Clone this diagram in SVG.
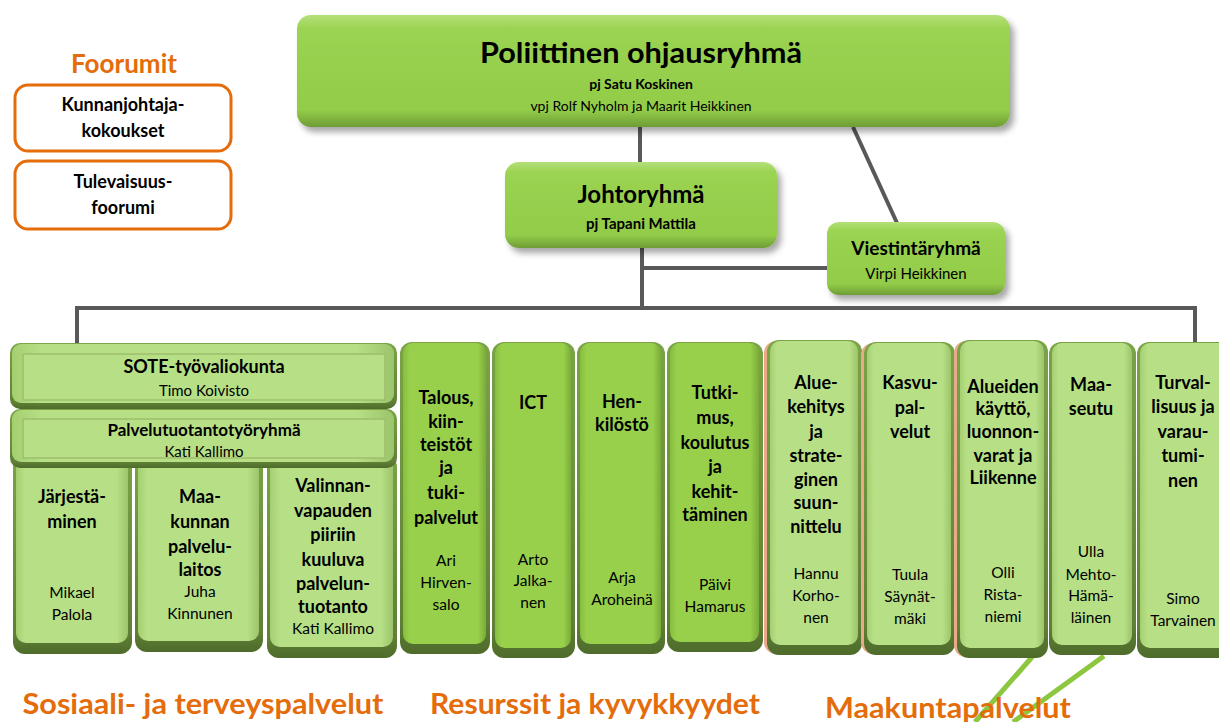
<svg xmlns="http://www.w3.org/2000/svg" width="1219" height="722" viewBox="0 0 1219 722">
<style>
.t{font-family:Lato,"Liberation Sans",sans-serif;text-anchor:middle;fill:#000}
.b{font-weight:bold}
.cb{font-size:18px;font-weight:bold}
.cn{font-size:15.5px}
.or{fill:#e46c0a;font-weight:bold}
.con{stroke:#595959;stroke-width:4;fill:none}
.gl{stroke:#8dc63f;stroke-width:5;fill:none}
.fbox{fill:#fff;stroke:#e46c0a;stroke-width:3}
.rim{fill:url(#gRim)}
.face1{fill:url(#gMid)}
.face2{fill:url(#gLight)}
.inner{fill:#b7df85;stroke:#9dbf6d;stroke-width:1.5}
</style>
<defs>
<linearGradient id="gTop" x1="0" y1="0" x2="0" y2="1">
<stop offset="0" stop-color="#b4e07a"/><stop offset="0.12" stop-color="#9bd352"/><stop offset="0.85" stop-color="#92cc48"/><stop offset="1" stop-color="#6f9c36"/>
</linearGradient>
<linearGradient id="gRim" x1="0" y1="0" x2="0" y2="1">
<stop offset="0" stop-color="#7aa447"/><stop offset="0.9" stop-color="#5f8035"/><stop offset="1" stop-color="#4e6b2b"/>
</linearGradient>
<linearGradient id="gMid" x1="0" y1="0" x2="1" y2="0">
<stop offset="0" stop-color="#86bd3f"/><stop offset="0.08" stop-color="#98d04c"/><stop offset="0.9" stop-color="#98d04c"/><stop offset="1" stop-color="#7aab38"/>
</linearGradient>
<linearGradient id="gLight" x1="0" y1="0" x2="1" y2="0">
<stop offset="0" stop-color="#a4cf70"/><stop offset="0.08" stop-color="#b7e086"/><stop offset="0.9" stop-color="#b7e086"/><stop offset="1" stop-color="#9cc46a"/>
</linearGradient>
<filter id="sh" x="-10%" y="-10%" width="125%" height="130%">
<feDropShadow dx="4" dy="5" stdDeviation="3" flood-color="#000" flood-opacity="0.35"/>
</filter>
</defs>

<g id="foorumit">
<text class="t or" x="124" y="73" font-size="26">Foorumit</text>
</g>
<g id="kunnanjohtajakokoukset">
<rect class="fbox" x="15" y="85" width="216" height="66" rx="13"/>
<text class="t b" x="123" y="111" font-size="18">Kunnanjohtaja-</text>
<text class="t b" x="123" y="137" font-size="18">kokoukset</text>
</g>
<g id="tulevaisuusfoorumi">
<rect class="fbox" x="15" y="161" width="216" height="68" rx="13"/>
<text class="t b" x="123" y="188" font-size="18">Tulevaisuus-</text>
<text class="t b" x="123" y="214" font-size="18">foorumi</text>
</g>

<g id="connectors">
<path class="con" d="M640 127V163"/>
<path class="con" d="M853 127L897 223"/>
<path class="con" d="M642 248V308"/>
<path class="con" d="M642 268H828"/>
<path class="con" d="M75 308H1197"/>
<path class="con" d="M77 306V344"/>
<path class="con" d="M1195 306V343"/>
<path class="gl" d="M1033 656L975 722"/>
<path class="gl" d="M1104 656L1013 722"/>
</g>

<g id="poliittinen">
<rect x="297" y="15" width="713" height="112" rx="14" fill="url(#gTop)" filter="url(#sh)"/>
<text class="t b" x="641" y="63" font-size="28" textLength="322" lengthAdjust="spacingAndGlyphs">Poliittinen ohjausryhmä</text>
<text class="t b" x="641" y="89" font-size="14">pj Satu Koskinen</text>
<text class="t" x="641" y="111" font-size="14">vpj Rolf Nyholm ja Maarit Heikkinen</text>
</g>

<g id="johtoryhma">
<rect x="505" y="162" width="272" height="86" rx="14" fill="url(#gTop)" filter="url(#sh)"/>
<text class="t b" x="641" y="203" font-size="24">Johtoryhmä</text>
<text class="t b" x="641" y="229" font-size="15">pj Tapani Mattila</text>
</g>

<g id="viestintaryhma">
<rect x="827" y="222" width="178" height="73" rx="12" fill="url(#gTop)" filter="url(#sh)"/>
<text class="t b" x="916" y="255" font-size="19">Viestintäryhmä</text>
<text class="t" x="916" y="279" font-size="15">Virpi Heikkinen</text>
</g>

<g id="jarjestaminen">
<rect class="rim" x="13" y="455" width="119" height="199" rx="12"/>
<rect class="face2" x="16" y="455" width="112" height="188" rx="10"/>
<text class="t cb" x="72" y="503">Järjestä-</text>
<text class="t cb" x="72" y="528">minen</text>
<text class="t cn" x="72" y="598">Mikael</text>
<text class="t cn" x="72" y="620">Palola</text>
</g>
<g id="maakunnan-palvelulaitos">
<rect class="rim" x="135" y="455" width="128" height="197" rx="12"/>
<rect class="face2" x="138" y="455" width="121" height="186" rx="10"/>
<text class="t cb" x="200" y="503">Maa-</text>
<text class="t cb" x="200" y="528">kunnan</text>
<text class="t cb" x="200" y="553">palvelu-</text>
<text class="t cb" x="200" y="576">laitos</text>
<text class="t cn" x="200" y="597">Juha</text>
<text class="t cn" x="200" y="619">Kinnunen</text>
</g>
<g id="valinnanvapaus">
<rect class="rim" x="267" y="455" width="130" height="203" rx="12"/>
<rect class="face2" x="270" y="455" width="123" height="192" rx="10"/>
<text class="t cb" x="333" y="492">Valinnan-</text>
<text class="t cb" x="333" y="517">vapauden</text>
<text class="t cb" x="333" y="541">piiriin</text>
<text class="t cb" x="333" y="566">kuuluva</text>
<text class="t cb" x="333" y="590">palvelun-</text>
<text class="t cb" x="333" y="613">tuotanto</text>
<text class="t cn" x="333" y="634">Kati Kallimo</text>
</g>
<g id="sote-tyovaliokunta">
<rect class="rim" x="10" y="343" width="387" height="66" rx="10"/>
<rect class="face2" x="12" y="344" width="382" height="59" rx="9"/>
<rect class="inner" x="23" y="354" width="362" height="46"/>
<text class="t b" x="204" y="373" font-size="18">SOTE-työvaliokunta</text>
<text class="t" x="204" y="396" font-size="15">Timo Koivisto</text>
</g>
<g id="palvelutuotantotyoryhma">
<rect class="rim" x="10" y="409" width="387" height="59" rx="10"/>
<rect class="face2" x="12" y="410" width="382" height="52" rx="9"/>
<rect class="inner" x="23" y="419" width="362" height="39"/>
<text class="t b" x="204" y="436" font-size="17">Palvelutuotantotyöryhmä</text>
<text class="t" x="204" y="457" font-size="15">Kati Kallimo</text>
</g>

<g id="talous">
<rect class="rim" x="400" y="342" width="90" height="312" rx="12"/>
<rect class="face1" x="403" y="343" width="83" height="301" rx="10"/>
<text class="t cb" x="446" y="404">Talous,</text>
<text class="t cb" x="446" y="428">kiin-</text>
<text class="t cb" x="446" y="451">teistöt</text>
<text class="t cb" x="446" y="474">ja</text>
<text class="t cb" x="446" y="499">tuki-</text>
<text class="t cb" x="446" y="524">palvelut</text>
<text class="t cn" x="446" y="566">Ari</text>
<text class="t cn" x="446" y="588">Hirven-</text>
<text class="t cn" x="446" y="610">salo</text>
</g>
<g id="ict">
<rect class="rim" x="492" y="342" width="83" height="316" rx="12"/>
<rect class="face1" x="495" y="343" width="76" height="305" rx="10"/>
<text class="t cb" x="533" y="409">ICT</text>
<text class="t cn" x="533" y="565">Arto</text>
<text class="t cn" x="533" y="586">Jalka-</text>
<text class="t cn" x="533" y="608">nen</text>
</g>
<g id="henkilosto">
<rect class="rim" x="577" y="342" width="88" height="312" rx="12"/>
<rect class="face1" x="580" y="343" width="81" height="301" rx="10"/>
<text class="t cb" x="622" y="408">Hen-</text>
<text class="t cb" x="622" y="431">kilöstö</text>
<text class="t cn" x="622" y="583">Arja</text>
<text class="t cn" x="622" y="605">Aroheinä</text>
</g>
<g id="tutkimus">
<rect class="rim" x="667" y="342" width="96" height="310" rx="12"/>
<rect class="face1" x="670" y="343" width="89" height="299" rx="10"/>
<text class="t cb" x="715" y="399">Tutki-</text>
<text class="t cb" x="715" y="424">mus,</text>
<text class="t cb" x="715" y="449">koulutus</text>
<text class="t cb" x="715" y="473">ja</text>
<text class="t cb" x="715" y="498">kehit-</text>
<text class="t cb" x="715" y="521">täminen</text>
<text class="t cn" x="715" y="590">Päivi</text>
<text class="t cn" x="715" y="612">Hamarus</text>
</g>

<g id="aluekehitys">
<rect x="764" y="341" width="95" height="313" rx="12" fill="#e9a98a"/>
<rect class="rim" x="767" y="340" width="95" height="315" rx="12"/>
<rect class="face2" x="770" y="341" width="88" height="304" rx="10"/>
<text class="t cb" x="816" y="389">Alue-</text>
<text class="t cb" x="816" y="413">kehitys</text>
<text class="t cb" x="816" y="438">ja</text>
<text class="t cb" x="816" y="462">strate-</text>
<text class="t cb" x="816" y="486">ginen</text>
<text class="t cb" x="816" y="509">suun-</text>
<text class="t cb" x="816" y="533">nittelu</text>
<text class="t cn" x="816" y="579">Hannu</text>
<text class="t cn" x="816" y="601">Korho-</text>
<text class="t cn" x="816" y="623">nen</text>
</g>
<g id="kasvupalvelut">
<rect x="861" y="343" width="91" height="311" rx="12" fill="#e9a98a"/>
<rect class="rim" x="864" y="342" width="91" height="313" rx="12"/>
<rect class="face2" x="867" y="343" width="84" height="302" rx="10"/>
<text class="t cb" x="910" y="389">Kasvu-</text>
<text class="t cb" x="910" y="414">pal-</text>
<text class="t cb" x="910" y="438">velut</text>
<text class="t cn" x="910" y="580">Tuula</text>
<text class="t cn" x="910" y="602">Säynät-</text>
<text class="t cn" x="910" y="624">mäki</text>
</g>
<g id="alueidenkaytto">
<rect x="954" y="341" width="91" height="316" rx="12" fill="#e9a98a"/>
<rect class="rim" x="957" y="340" width="91" height="318" rx="12"/>
<rect class="face2" x="960" y="341" width="84" height="307" rx="10"/>
<text class="t cb" x="1003" y="393">Alueiden</text>
<text class="t cb" x="1003" y="415">käyttö,</text>
<text class="t cb" x="1003" y="438">luonnon-</text>
<text class="t cb" x="1003" y="462">varat ja</text>
<text class="t cb" x="1003" y="484">Liikenne</text>
<text class="t cn" x="1003" y="578">Olli</text>
<text class="t cn" x="1003" y="600">Rista-</text>
<text class="t cn" x="1003" y="622">niemi</text>
</g>
<g id="maaseutu">
<rect class="rim" x="1049" y="342" width="87" height="313" rx="12"/>
<rect class="face2" x="1052" y="343" width="80" height="302" rx="10"/>
<text class="t cb" x="1091" y="391">Maa-</text>
<text class="t cb" x="1091" y="415">seutu</text>
<text class="t cn" x="1091" y="557">Ulla</text>
<text class="t cn" x="1091" y="580">Mehto-</text>
<text class="t cn" x="1091" y="601">Hämä-</text>
<text class="t cn" x="1091" y="623">läinen</text>
</g>
<g id="turvallisuus">
<rect class="rim" x="1137" y="342" width="100" height="316" rx="12"/>
<rect class="face2" x="1140" y="343" width="93" height="305" rx="10"/>
<text class="t cb" x="1183" y="389">Turval-</text>
<text class="t cb" x="1183" y="413">lisuus ja</text>
<text class="t cb" x="1183" y="438">varau-</text>
<text class="t cb" x="1183" y="462">tumi-</text>
<text class="t cb" x="1183" y="487">nen</text>
<text class="t cn" x="1183" y="604">Simo</text>
<text class="t cn" x="1183" y="626">Tarvainen</text>
</g>

<g id="labels">
<text class="t or" x="203" y="714" font-size="28" textLength="361" lengthAdjust="spacingAndGlyphs">Sosiaali- ja terveyspalvelut</text>
<text class="t or" x="595" y="714" font-size="28" textLength="330" lengthAdjust="spacingAndGlyphs">Resurssit ja kyvykkyydet</text>
<text class="t or" x="948" y="718" font-size="28" textLength="246" lengthAdjust="spacingAndGlyphs">Maakuntapalvelut</text>
</g>
</svg>
